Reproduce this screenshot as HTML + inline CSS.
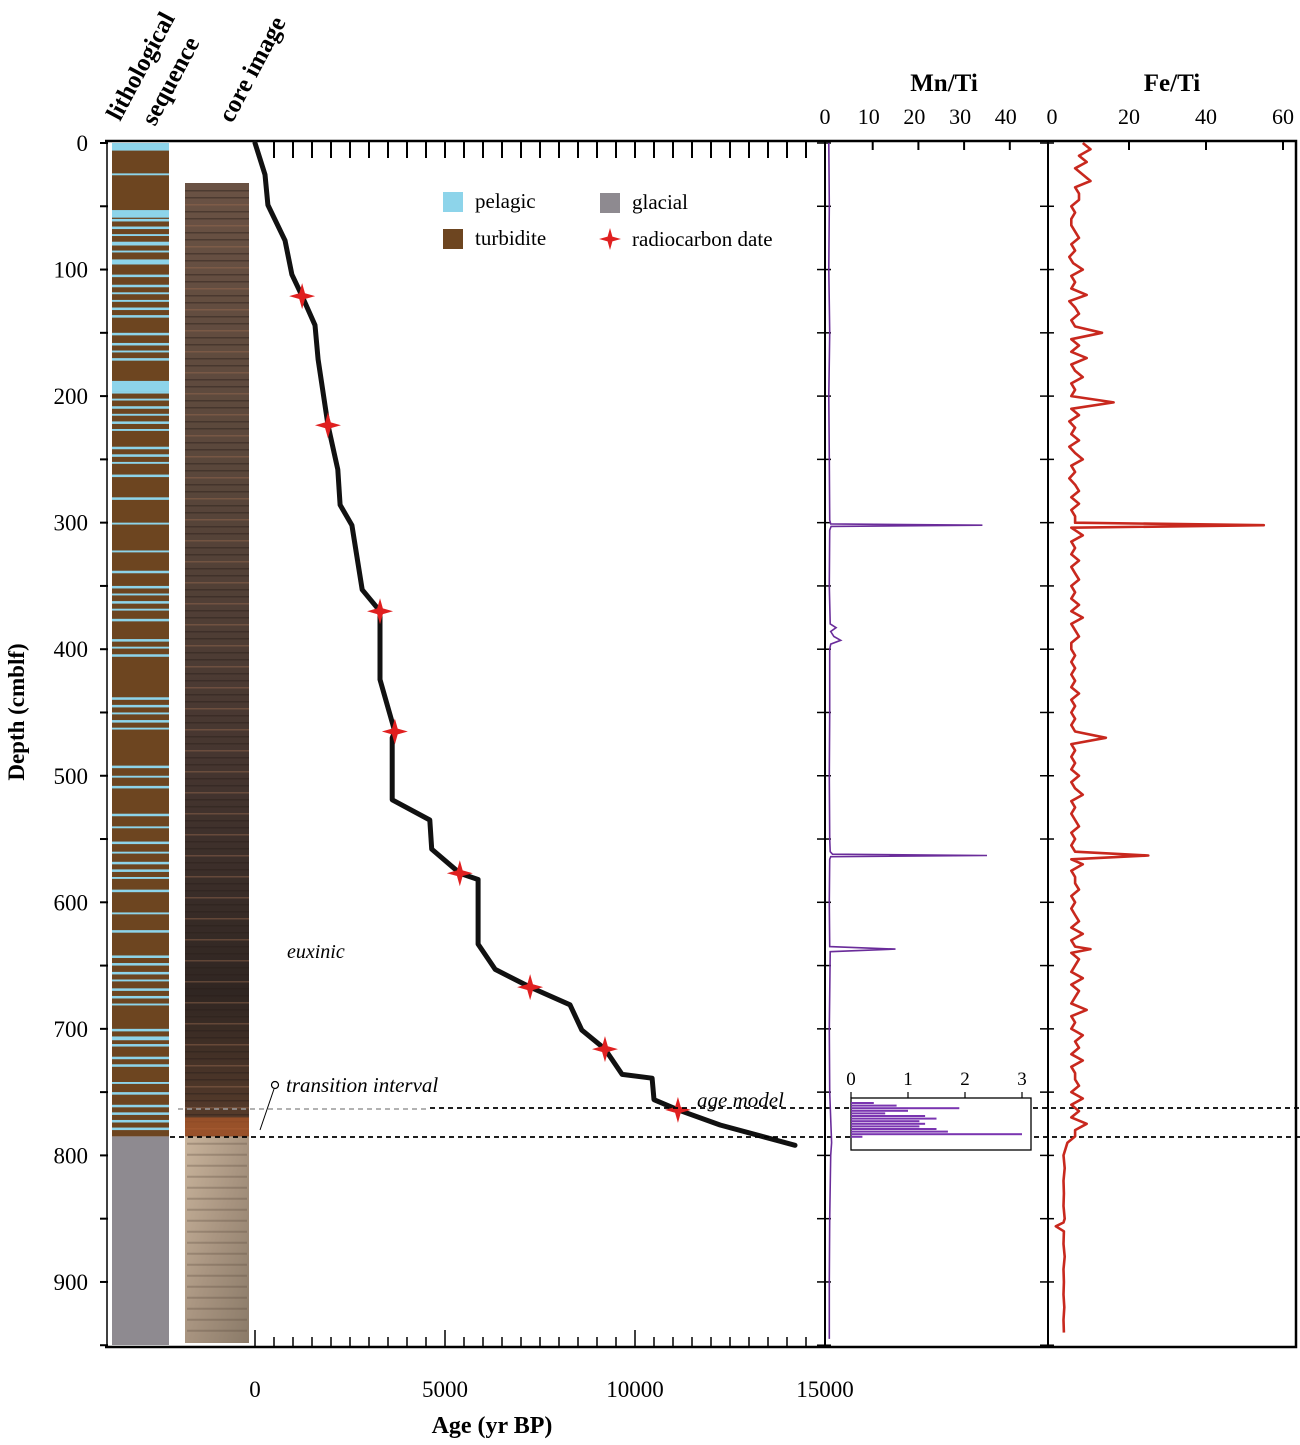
<!DOCTYPE html>
<html><head><meta charset="utf-8">
<style>
html,body{margin:0;padding:0;background:#fff;}
svg{display:block;font-family:"Liberation Serif",serif;}
</style></head>
<body>
<svg id="fig" width="1300" height="1445" viewBox="0 0 1300 1445" xmlns="http://www.w3.org/2000/svg">
<defs>
<linearGradient id="coreTop" x1="0" y1="0" x2="0" y2="1">
<stop offset="0" stop-color="#6a5244"/><stop offset="0.3" stop-color="#5a473b"/><stop offset="0.6" stop-color="#463630"/><stop offset="0.85" stop-color="#302622"/><stop offset="1" stop-color="#5b3e2c"/>
</linearGradient>
<linearGradient id="coreBot" x1="0" y1="0" x2="1" y2="1">
<stop offset="0" stop-color="#c9b49c"/><stop offset="0.5" stop-color="#a89480"/><stop offset="1" stop-color="#8a7a68"/>
</linearGradient>
</defs>
<g id="layer"></g>
</svg>
<script>
// ---- data ----
const depthTicks=[0,100,200,300,400,500,600,700,800,900];
const ageTicks=[0,5000,10000,15000];
const mnTicks=[0,10,20,30,40];
const feTicks=[0,20,40,60];
const insetTicks=[0,1,2,3];
const ageModelAge=[0,263,340,790,970,1240,1580,1660,1920,2180,2240,2550,2820,3290,3290,3680,3610,3610,4600,4650,5390,5870,5870,6320,7240,8290,8600,9210,9660,10450,10500,11130,12240,14210];
const ageModelDepth=[0,25,49,77,104,121,144,171,223,258,286,302,353,370,424,465,470,519,535,558,577,582,633,653,667,681,701,716,736,739,756,764,776,792];
const dateAge=[1240,1920,3290,3680,5390,7240,9210,11130];
const dateDepth=[121,223,370,465,577,667,716,764];
const pelagicTop=[0,24,53,60,66,72,78,85,92,104,112,118,124,130,136,150,158,164,170,188,196,202,208,214,220,226,240,246,252,262,280,300,322,338,350,356,362,368,376,392,398,404,438,444,450,456,462,492,500,508,530,540,552,560,568,574,580,590,608,622,642,648,655,661,668,674,680,700,706,712,722,728,742,750,760,766,772,778];
const pelagicThick=[6,1.5,6,2,2,1.5,3,1.5,4,2,2,1.5,1.5,2,2,2,2,1.5,2,8,2,1.5,2,1.5,2,1.5,2,2,1.5,2,2,1.5,1.5,2,2,1.5,2,1.5,2,2,1.5,2,2,2,1.5,2,1.5,2,1.5,2,2,1.5,2,1.5,2,2,1.5,2,1.5,2,2,2,2,1.5,2,2,1.5,2,3,2,2,2,1.5,2,2,2,2,2];
const mnDepth=[0,50,100,150,200,250,298,301,302,303,306,350,380,383,386,390,393,396,400,450,500,550,560,562,563,564,566,600,635,637,639,700,750,790,800,850,900,945];
const mnVal=[0.4,0.5,0.4,0.6,0.4,0.5,0.6,0.8,34,0.9,0.6,0.5,0.7,2,0.8,1.5,3,0.8,0.6,0.6,0.5,0.6,0.7,1.2,35,0.8,0.6,0.5,0.6,15,0.7,0.5,0.6,1,0.8,0.6,0.5,0.5];
const insetDepth=[760,762,764,766,768,770,772,774,776,778,780,782,784,786];
const insetVal=[0.4,0.8,1.9,1.0,0.6,1.3,1.5,1.2,1.3,1.2,1.5,1.7,3.0,0.2];
const feDepth=[0,5,10,15,20,25,30,35,40,45,50,55,60,65,70,75,80,85,90,95,100,105,110,115,120,125,130,135,140,145,150,155,160,165,170,175,180,185,190,195,200,205,210,215,220,225,230,235,240,245,250,255,260,265,270,275,280,285,290,295,300,302,304,310,315,320,325,330,335,340,345,350,355,360,365,370,375,380,385,390,395,400,405,410,415,420,425,430,435,440,445,450,455,460,465,470,475,480,485,490,495,500,505,510,515,520,525,530,535,540,545,550,555,560,563,566,570,575,580,585,590,595,600,605,610,615,620,625,630,635,637,640,645,650,655,660,665,670,675,680,685,690,695,700,705,710,715,720,725,730,735,740,745,750,755,760,765,770,775,780,785,790,800,810,820,830,840,850,853,856,860,870,880,890,900,910,920,930,940];
const feVal=[8,10,7,9,6,8,10,6,7,7,5,6,5,5,6,7,5,6,4.5,5.5,8,5,6,5,9,4.5,6,7,5,6,13,5,7,5,9,5,6,8,5,6,5,16,5,7,4.5,6,5,7,4.5,6,8,5,6,4.5,6,7,5,7,5,6,6,55,5,8,5,6,5,7,5,6,7,5,6,5,7,5,8,5,6,7,5,5,6,5,6,5,6,5,7,5,6,5,6,5,6,14,5,6,5,6,5,7,5,6,8,5,6,5,6,7,5,6,5,6,25,5,8,5,6,6,7,5,6,5,6,7,5,8,5,6,10,5,7,6,5,8,5,7,6,5,9,5,6,5,8,6,7,5,8,5,6,6,7,5,8,5,7,5,9,6,6,4,3,3.3,3,3.1,3,3.3,3,1,3.1,3,3.3,3,3.1,3,3.2,3,3.1];
// ---- scales ----
const Y=d=>143+d*1.2655;
const XA=a=>255+a*0.038;
const XM=v=>827+v*4.57;
const XF=v=>1052+v*3.85;
const XI=v=>851+v*57;
const NS='http://www.w3.org/2000/svg';
const L=document.getElementById('layer');
function mk(tag,at,parent){const e=document.createElementNS(NS,tag);for(const k in at)e.setAttribute(k,at[k]);(parent||L).appendChild(e);return e;}
function tx(s,at){const e=mk('text',at);e.textContent=s;return e;}

// lithology column
let e=mk('rect',{x:112,y:Y(0),width:57,height:Y(785)-Y(0),fill:'#6d4520'});


for(let i=0;i<pelagicTop.length;i++){
 e=mk('rect',{x:112,y:Y(pelagicTop[i]),width:57,height:pelagicThick[i]*1.2655,fill:'#8dd4ea'});
 
 
}
e=mk('rect',{x:112,y:Y(785),width:57,height:1345-Y(785),fill:'#8e8a90'});



// core image
e=mk('rect',{x:185,y:183,width:64,height:Y(785)-183,fill:'url(#coreTop)'});


for(let yy=190;yy<Y(785);yy+=7){
 e=mk('rect',{x:185,y:yy,width:64,height:1.5,fill:(yy%3==0)?'#9a6a50':'#2a1f1a',opacity:0.45});
 
 
}
e=mk('rect',{x:185,y:Y(770),width:64,height:Y(785)-Y(770),fill:'#b35a2a',opacity:0.7});


e=mk('rect',{x:185,y:Y(785),width:64,height:1343-Y(785),fill:'url(#coreBot)'});


for(let yy=Y(790);yy<1340;yy+=11){
 e=mk('rect',{x:187,y:yy,width:60,height:2,fill:'#5a4a3c',opacity:0.3});
 
 
}

// frame
e=mk('path',{d:'M105 141H1296V1347H105',fill:'none',stroke:'#000','stroke-width':2.5});


e=mk('line',{x1:107,y1:141,x2:107,y2:1347,stroke:'#000','stroke-width':1.5});


e=mk('line',{x1:825,y1:141,x2:825,y2:1347,stroke:'#000','stroke-width':2});


e=mk('line',{x1:1048,y1:141,x2:1048,y2:1347,stroke:'#000','stroke-width':2});



// depth ticks
for(const d of depthTicks){
 e=tx(String(d),{x:88,y:Y(d)+8,'font-size':23,'text-anchor':'end'});
 
 
}
for(let d=0;d<=950;d+=50){
 e=mk('line',{x1:100,y1:Y(d),x2:108,y2:Y(d),stroke:'#000','stroke-width':2});
 
 
 for(const x0 of [825,1048]){
  e=mk('line',{x1:x0-8,y1:Y(d),x2:x0+6,y2:Y(d),stroke:'#000','stroke-width':1.5});
  
  
 }
}
e=tx('Depth (cmblf)',{x:0,y:0,'font-size':23,'font-weight':'bold',transform:'translate(24,712) rotate(-90)','text-anchor':'middle'});



// age axis
for(let a=0;a<=14500;a+=500){
 const big=a%5000==0;
 e=mk('line',{x1:XA(a),y1:1347,x2:XA(a),y2:big?1330:1337,stroke:'#000','stroke-width':1.5});
 
 
 if(a>0){
 e=mk('line',{x1:XA(a),y1:141,x2:XA(a),y2:158,stroke:'#000','stroke-width':2});
 
 }
}
for(const a of ageTicks){
 e=tx(String(a),{x:XA(a),y:1397,'font-size':23,'text-anchor':'middle'});
 
 
}
e=tx('Age (yr BP)',{x:492,y:1433,'font-size':24,'font-weight':'bold','text-anchor':'middle'});



// column titles
e=tx('lithological',{x:0,y:0,'font-size':25,'font-weight':'bold',transform:'translate(120,122) rotate(-62)'});


e=tx('sequence',{x:0,y:0,'font-size':25,'font-weight':'bold',transform:'translate(155,127) rotate(-62)'});


e=tx('core image',{x:0,y:0,'font-size':25,'font-weight':'bold',transform:'translate(232,124) rotate(-62)'});



// age model
let dp='';
for(let i=0;i<ageModelAge.length;i++)dp+=(i?'L':'M')+XA(ageModelAge[i]).toFixed(1)+' '+Y(ageModelDepth[i]).toFixed(1);
e=mk('path',{d:dp,fill:'none',stroke:'#111','stroke-width':5,'stroke-linejoin':'round','stroke-linecap':'round'});


function star(cx,cy,r){
 const s=r*0.22;
 return mk('path',{d:`M${cx} ${cy-r}L${cx+s} ${cy-s}L${cx+r} ${cy}L${cx+s} ${cy+s}L${cx} ${cy+r}L${cx-s} ${cy+s}L${cx-r} ${cy}L${cx-s} ${cy-s}Z`,fill:'#e02020'});
}
for(let i=0;i<dateAge.length;i++){
 e=star(XA(dateAge[i]),Y(dateDepth[i]),13);
 
 
}

// legend
e=mk('rect',{x:443,y:192,width:20,height:20,fill:'#8dd4ea'});


e=tx('pelagic',{x:475,y:208,'font-size':21});


e=mk('rect',{x:443,y:229,width:20,height:20,fill:'#6d4520'});


e=tx('turbidite',{x:475,y:245,'font-size':21});


e=mk('rect',{x:600,y:193,width:20,height:20,fill:'#8e8a90'});


e=tx('glacial',{x:632,y:209,'font-size':21});


e=star(610,239,11);


e=tx('radiocarbon date',{x:632,y:246,'font-size':21});



// annotations
e=tx('euxinic',{x:287,y:958,'font-size':20,'font-style':'italic'});


e=tx('transition interval',{x:286,y:1092,'font-size':21,'font-style':'italic'});


e=mk('circle',{cx:275,cy:1085,r:3.5,fill:'#fff',stroke:'#000','stroke-width':1.2});


e=mk('line',{x1:274,y1:1089,x2:260,y2:1130,stroke:'#000','stroke-width':1});


e=tx('age model',{x:697,y:1107,'font-size':21,'font-style':'italic'});


e=mk('line',{x1:178,y1:1109,x2:430,y2:1109,stroke:'#999','stroke-width':1.5,'stroke-dasharray':'5 4'});


e=mk('line',{x1:430,y1:1108,x2:1300,y2:1108,stroke:'#000','stroke-width':1.8,'stroke-dasharray':'5 4'});


e=mk('line',{x1:170,y1:1137,x2:1300,y2:1137,stroke:'#000','stroke-width':1.8,'stroke-dasharray':'5 4'});



// Mn/Ti
e=tx('Mn/Ti',{x:944,y:91,'font-size':25,'font-weight':'bold','text-anchor':'middle'});


for(const v of mnTicks){
 e=tx(String(v),{x:XM(v)-(v?4:2),y:124,'font-size':22,'text-anchor':'middle'});
 
 
 if(v){e=mk('line',{x1:XM(v),y1:141,x2:XM(v),y2:150,stroke:'#000','stroke-width':2});
 
 }
}
dp='';
for(let i=0;i<mnDepth.length;i++)dp+=(i?'L':'M')+XM(mnVal[i]).toFixed(1)+' '+Y(mnDepth[i]).toFixed(1);
e=mk('path',{d:dp,fill:'none',stroke:'#6a2c9a','stroke-width':1.6});


// inset
e=mk('rect',{x:851,y:1098,width:180,height:52,fill:'#fff',stroke:'#000','stroke-width':1.3});


for(const v of insetTicks){
 e=tx(String(v),{x:XI(v),y:1085,'font-size':19,'text-anchor':'middle'});
 
 
 e=mk('line',{x1:XI(v),y1:1098,x2:XI(v),y2:1092,stroke:'#000','stroke-width':1.2});
 
 
}
for(let i=0;i<insetDepth.length;i++){
 e=mk('rect',{x:XI(0),y:1102+i*2.6,width:XI(insetVal[i])-XI(0),height:2,fill:'#7a35b0'});
 
 
}

// Fe/Ti
e=tx('Fe/Ti',{x:1172,y:91,'font-size':25,'font-weight':'bold','text-anchor':'middle'});


for(const v of feTicks){
 e=tx(String(v),{x:XF(v),y:124,'font-size':22,'text-anchor':'middle'});
 
 
 if(v){e=mk('line',{x1:XF(v),y1:141,x2:XF(v),y2:150,stroke:'#000','stroke-width':2});
 
 }
}
dp='';
for(let i=0;i<feDepth.length;i++)dp+=(i?'L':'M')+XF(feVal[i]).toFixed(1)+' '+Y(feDepth[i]).toFixed(1);
e=mk('path',{d:dp,fill:'none',stroke:'#c8281e','stroke-width':2.6,'stroke-linejoin':'round'});


</script>
</body></html>
